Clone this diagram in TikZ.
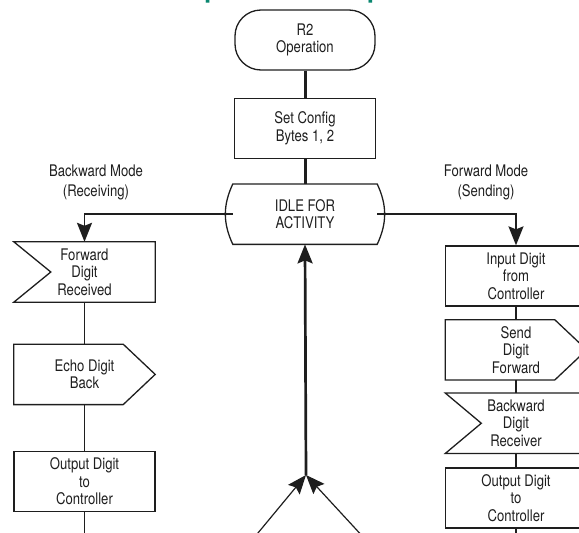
\documentclass[tikz,border=0pt]{standalone}
\usepackage{fontspec}
\setmainfont{TeX Gyre Heros}[FakeStretch=0.82]
\newfontfamily\titlefont{TeX Gyre Heros}
\usepackage{tikz}
\usetikzlibrary{arrows.meta, positioning, calc}
\definecolor{ink}{HTML}{1E1E1E}
\definecolor{headgreen}{HTML}{0A8770}
\newcommand{\recvbox}[2]{\draw[outline] (#1.north west) -- (#1.north east) -- (#1.south east) -- (#1.south west) -- ([xshift=#2]#1.west) -- cycle;}
\newcommand{\sendbox}[2]{\draw[outline] (#1.north west) -- ([xshift=-#2]#1.north east) -- (#1.east) -- ([xshift=-#2]#1.south east) -- (#1.south west) -- cycle;}
\newcommand{\idlebox}[1]{\draw[outline] (#1.north west) to[bend right=25] (#1.south west) -- (#1.south east) to[bend right=25] (#1.north east) -- cycle;}

\begin{document}
\begin{tikzpicture}[
  x=1pt, y=-1pt,
  every node/.style={font=\fontsize{16}{17.5}\selectfont, text=ink},
  outline/.style={draw=ink, line width=1.3pt, line join=miter},
  term/.style={outline, rounded corners=26pt, minimum width=140pt, minimum height=60pt, align=center},
  box/.style={outline, minimum width=141pt, minimum height=60pt, align=center},
  shp/.style={minimum width=141pt, minimum height=60pt, align=center},
  lbl/.style={align=center, font=\fontsize{16}{20}\selectfont},
  flow/.style={draw=ink, line width=3pt},
  link/.style={draw=ink, line width=1.2pt},
  arr/.style={-{Stealth[length=19pt, width=15pt, inset=3pt]}}
]
\useasboundingbox (0,0) rectangle (579,533);
\clip (0,0) rectangle (579,533);

\node[anchor=base west, font=\titlefont\bfseries\fontsize{26}{30}\selectfont, text=headgreen] (title) at (9,-2.5) {Automatic Complete Mode Operation};

\node[term] (r2op) at (305,40) {R2\\Operation};
\node[box, below=27pt of r2op] (cfg) {Set Config\\Bytes 1, 2};
\node[shp, minimum width=144pt, below=25pt of cfg] (idle) {IDLE FOR\\ACTIVITY};
\idlebox{idle}

\node[lbl] (bwdlbl) at (96,182) {Backward Mode\\(Receiving)};
\node[lbl] (fwdlbl) at (486,182) {Forward Mode\\(Sending)};

\node[shp] (fwdrx) at (84.5,272) {Forward\\Digit\\Received};
\recvbox{fwdrx}{37pt}
\node[shp, below=42pt of fwdrx] (echo) {Echo Digit\\Back};
\sendbox{echo}{32pt}
\node[box, below=46pt of echo] (outl) {Output Digit\\to\\Controller};
\coordinate (endl) at (outl.south |- 0,540);

\node[box] (input) at (516,276) {Input Digit\\from\\Controller};
\node[shp, below=13pt of input] (send) {Send\\Digit\\Forward};
\sendbox{send}{32pt}
\node[shp, below=13pt of send] (bwdrx) {Backward\\Digit\\Receiver};
\recvbox{bwdrx}{36pt}
\node[box, below=14pt of bwdrx] (outr) {Output Digit\\to\\Controller};
\coordinate (endr) at (outr.south |- 0,540);

\coordinate (vtop) at (306,475);
\coordinate (vl) at (253,539);
\coordinate (vr) at (365,539);

\draw[flow] (r2op) -- (cfg);
\draw[flow] (cfg) -- (idle);
\draw[link, line width=1.7pt, arr] (idle.west) -| (fwdrx.north);
\draw[link, line width=1.7pt, arr] (idle.east) -| (input.north);
\draw[link] (fwdrx) -- (echo);
\draw[link] (echo) -- (outl);
\draw[link] (outl) -- (endl);
\draw[link] (input) -- (send);
\draw[link] (send) -- (bwdrx);
\draw[link] (bwdrx) -- (outr);
\draw[link] (outr) -- (endr);
\draw[link, line width=2.7pt, arr] (vtop) -- (idle.south);
\draw[link, arr] (vl) -- (vtop);
\draw[link, arr] (vr) -- (vtop);
\end{tikzpicture}
\end{document}
